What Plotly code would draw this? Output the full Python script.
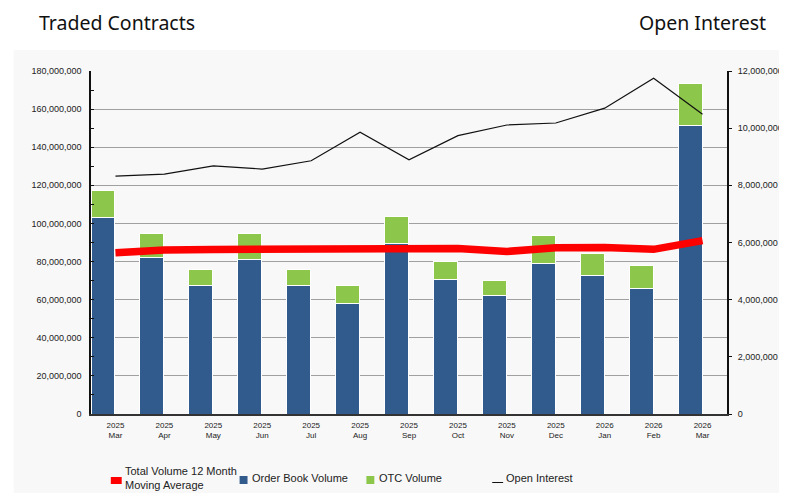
import plotly.graph_objects as go

months = ["Mar", "Apr", "May", "Jun", "Jul", "Aug", "Sep", "Oct", "Nov", "Dec", "Jan", "Feb", "Mar"]
years = ["2025"] * 10 + ["2026"] * 3
order_book = [103.0e6, 82.0e6, 67.3e6, 81.0e6, 67.3e6, 58.0e6, 89.6e6, 70.6e6, 62.0e6, 79.1e6, 72.6e6, 66.1e6, 151.3e6]
total_volume = [117.5e6, 94.5e6, 75.6e6, 94.5e6, 75.6e6, 67.2e6, 103.9e6, 79.8e6, 70.3e6, 93.6e6, 84.1e6, 77.7e6, 173.2e6]
otc = [t - o for t, o in zip(total_volume, order_book)]
moving_avg = [84.6e6, 86.0e6, 86.3e6, 86.6e6, 86.8e6, 87.0e6, 87.2e6, 86.9e6, 85.3e6, 87.3e6, 87.4e6, 86.4e6, 91.0e6]
open_interest = [8.32e6, 8.39e6, 8.68e6, 8.57e6, 8.86e6, 9.86e6, 8.89e6, 9.74e6, 10.11e6, 10.18e6, 10.70e6, 11.75e6, 10.49e6]

x = list(range(len(months)))
ticktext = [f"{y}<br>{m}" for y, m in zip(years, months)]

OFF = 8  # page body margin
W, H = 787, 493
L, R, T, B = 91 - OFF, 733 - OFF, 71 - OFF, 414 - OFF


def px(v):
    v -= OFF
    return (v - L) / (R - L)


def py(v):
    v -= OFF
    return (B - v) / (B - T)


BLUE = "#305b8c"
GREEN = "#8cc64a"
RED = "#ff0000"

fig = go.Figure()
fig.add_trace(go.Bar(x=x, y=order_book, name="Order Book Volume", marker=dict(color=BLUE, line=dict(color="white", width=1)),
                     width=0.49, offset=-0.5))
fig.add_trace(go.Bar(x=x, y=otc, name="OTC Volume", marker=dict(color=GREEN, line=dict(color="white", width=1)),
                     width=0.49, offset=-0.5))
fig.add_trace(go.Scatter(x=x, y=moving_avg, mode="lines", name="Total Volume 12 Month Moving Average",
                         line=dict(color=RED, width=7.5)))
fig.add_trace(go.Scatter(x=x, y=open_interest, mode="lines", name="Open Interest", yaxis="y2",
                         line=dict(color="#111111", width=1.2)))

shapes = [
    dict(type="rect", xref="paper", yref="paper", x0=px(13), x1=px(800), y0=py(510), y1=py(50),
         fillcolor="#f8f8f8", line=dict(width=0), layer="below"),
    dict(type="rect", xref="paper", yref="paper", x0=px(111), x1=px(122), y0=py(484), y1=py(477),
         fillcolor=RED, line=dict(width=0)),
    dict(type="rect", xref="paper", yref="paper", x0=px(241), x1=px(249), y0=py(484), y1=py(476),
         fillcolor=BLUE, line=dict(width=0)),
    dict(type="rect", xref="paper", yref="paper", x0=px(369), x1=px(377), y0=py(484), y1=py(476),
         fillcolor=GREEN, line=dict(width=0)),
    dict(type="line", xref="paper", yref="paper", x0=px(496), x1=px(507), y0=py(482.5), y1=py(482.5),
         line=dict(color="#111111", width=1)),
]

lf = dict(family="Liberation Sans, Arial", size=11, color="#222222")
hf = dict(family="Noto Sans", size=19.5, color="#111111")
annotations = [
    dict(text="Traded Contracts", x=px(36), y=py(22.5), xref="paper", yref="paper", xanchor="left", yanchor="middle",
         showarrow=False, font=hf),
    dict(text="Open Interest", x=px(774), y=py(22.5), xref="paper", yref="paper", xanchor="right", yanchor="middle",
         showarrow=False, font=hf),
    dict(text="Total Volume 12 Month<br>Moving Average", x=px(123), y=py(478), xref="paper", yref="paper",
         xanchor="left", yanchor="middle", align="left", showarrow=False, font=lf),
    dict(text="Order Book Volume", x=px(252), y=py(478), xref="paper", yref="paper",
         xanchor="left", yanchor="middle", showarrow=False, font=lf),
    dict(text="OTC Volume", x=px(380), y=py(478), xref="paper", yref="paper",
         xanchor="left", yanchor="middle", showarrow=False, font=lf),
    dict(text="Open Interest", x=px(508), y=py(478), xref="paper", yref="paper",
         xanchor="left", yanchor="middle", showarrow=False, font=lf),
]

tf = dict(family="Liberation Sans, Arial", size=9, color="#222222")
fig.update_layout(
    width=W, height=H,
    autosize=False,
    margin=dict(l=L, r=W - R, t=T, b=H - B, pad=0),
    paper_bgcolor="white",
    plot_bgcolor="#fdfdfd",
    barmode="stack",
    showlegend=False,
    shapes=shapes,
    annotations=annotations,
    xaxis=dict(range=[-0.5, 12.5], tickvals=x, ticktext=ticktext, tickfont=dict(family="Liberation Sans, Arial", size=8, color="#222222"),
               showgrid=False, zeroline=False, showline=True, linecolor="#333333", linewidth=2, ticks="", ticklabelstandoff=2),
    yaxis=dict(range=[0, 180e6], dtick=20e6, tickformat=",d", tickfont=tf, showgrid=True, gridcolor="#a0a0a0", gridwidth=1,
               zeroline=False, showline=True, linecolor="#111111", linewidth=1.5, ticks="inside", ticklen=3, tickcolor="#111111",
               minor=dict(dtick=10e6, ticks="inside", ticklen=3, tickcolor="#111111", showgrid=False),
               ticklabelstandoff=6),
    yaxis2=dict(range=[0, 12e6], dtick=2e6, tickformat=",d", tickfont=tf, overlaying="y", side="right", showgrid=False,
                zeroline=False, showline=True, linecolor="#111111", linewidth=2, ticks="outside", ticklen=3, tickcolor="#111111",
                ticklabelstandoff=4),
)

fig.write_html("out.html")
